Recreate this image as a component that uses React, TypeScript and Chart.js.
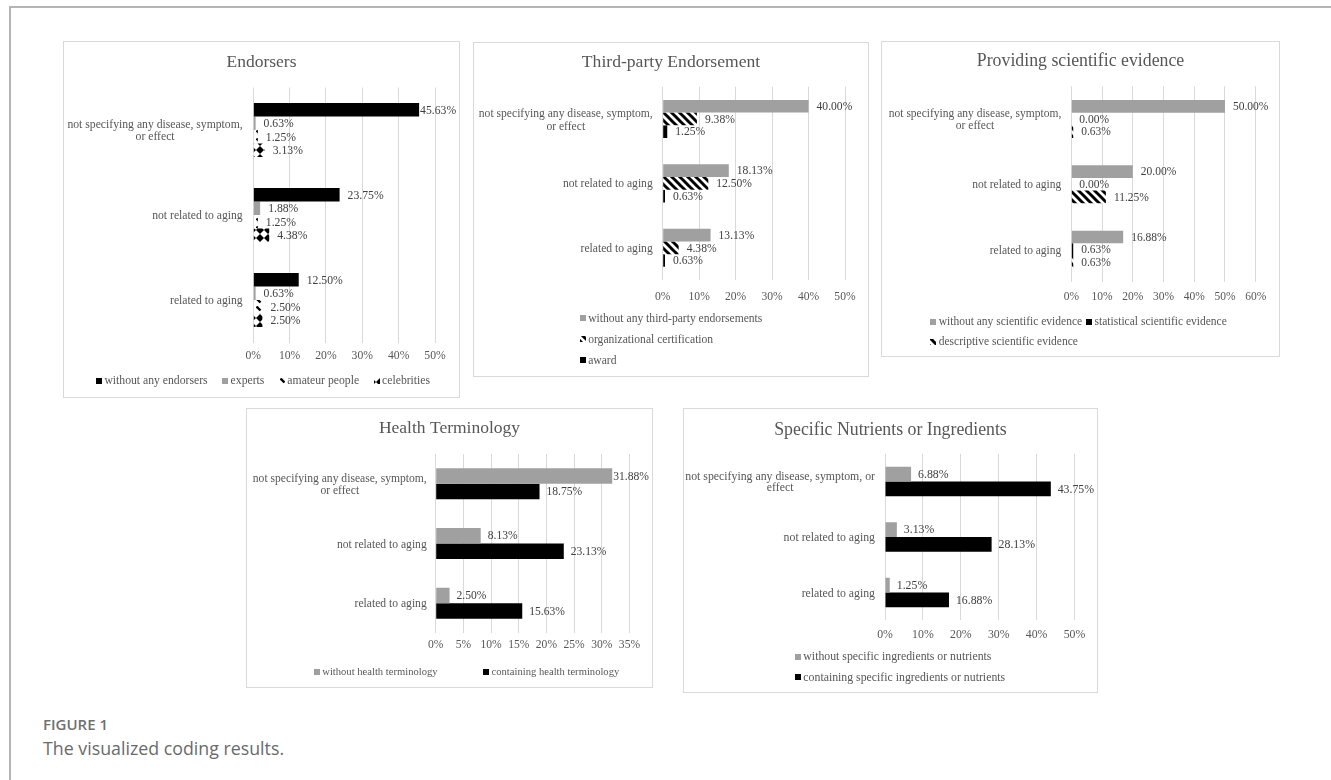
import React, { useEffect, useRef } from "react";
import { Chart, registerables } from "chart.js";

Chart.register(...registerables);

const SERIF = '"Liberation Serif", "Times New Roman", serif';
const AXIS_TEXT = "#575757";
const VALUE_TEXT = "#404040";
const GRID_COLOR = "#d9d9d9";
const GRAY_FILL = "#a0a0a0";
const BLACK_FILL = "#000000";

// ---------------- data ----------------
const categoriesShortWrap = [
  ["not specifying any disease, symptom,", "or effect"],
  ["not related to aging"],
  ["related to aging"],
];
const categoriesLongWrap = [
  ["not specifying any disease, symptom, or", "effect"],
  ["not related to aging"],
  ["related to aging"],
];

const endorsersTicks = [0, 10, 20, 30, 40, 50];
const endorsersNames = ["without any endorsers", "experts", "amateur people", "celebrities"];
const endorsersNone = [45.63, 23.75, 12.5];
const endorsersExperts = [0.63, 1.88, 0.63];
const endorsersAmateur = [1.25, 1.25, 2.5];
const endorsersCelebrities = [3.13, 4.38, 2.5];

const thirdPartyTicks = [0, 10, 20, 30, 40, 50];
const thirdPartyNames = ["without any third-party endorsements", "organizational certification", "award"];
const thirdPartyNone = [40.0, 18.13, 13.13];
const thirdPartyCertification = [9.38, 12.5, 4.38];
const thirdPartyAward = [1.25, 0.63, 0.63];

const evidenceTicks = [0, 10, 20, 30, 40, 50, 60];
const evidenceNames = ["without any scientific evidence", "statistical scientific evidence", "descriptive scientific evidence"];
const evidenceNone = [50.0, 20.0, 16.88];
const evidenceStatistical = [0.0, 0.0, 0.63];
const evidenceDescriptive = [0.63, 11.25, 0.63];

const healthTicks = [0, 5, 10, 15, 20, 25, 30, 35];
const healthNames = ["without health terminology", "containing health terminology"];
const healthWithout = [31.88, 8.13, 2.5];
const healthContaining = [18.75, 23.13, 15.63];

const nutrientTicks = [0, 10, 20, 30, 40, 50];
const nutrientNames = ["without specific ingredients or nutrients", "containing specific ingredients or nutrients"];
const nutrientWithout = [6.88, 3.13, 1.25];
const nutrientContaining = [43.75, 28.13, 16.88];

// ---------------- fills ----------------
function makeFill(kind: string): any {
  if (kind === "gray") return GRAY_FILL;
  if (kind === "black") return BLACK_FILL;
  const s = 8;
  const c = document.createElement("canvas");
  c.width = s;
  c.height = s;
  const g = c.getContext("2d")!;
  g.fillStyle = "#ffffff";
  g.fillRect(0, 0, s, s);
  g.fillStyle = "#000000";
  g.strokeStyle = "#000000";
  if (kind === "stripes") {
    g.lineWidth = 3;
    for (const c0 of [-s, 0, s]) {
      g.beginPath();
      g.moveTo(c0 - 1, -1);
      g.lineTo(c0 + s + 1, s + 1);
      g.stroke();
    }
  } else if (kind === "diamonds") {
    g.beginPath();
    g.moveTo(s / 2, 0);
    g.lineTo(s, s / 2);
    g.lineTo(s / 2, s);
    g.lineTo(0, s / 2);
    g.closePath();
    g.fill();
  } else if (kind === "dashes") {
    g.lineWidth = 2.4;
    g.beginPath();
    g.moveTo(0.5, 0.5);
    g.lineTo(4.5, 4.5);
    g.stroke();
  }
  return g.createPattern(c, "repeat");
}

// ---------------- panel layout ----------------
type Series = { name: string; values: number[]; fill: string };
type PanelSpec = {
  key: string;
  title: string;
  left: number;
  top: number;
  width: number;
  height: number;
  area: { left: number; top: number; right: number; bottom: number };
  categories: string[][];
  series: Series[];
  ticks: number[];
  fontSize: number;
  legendFontSize: number;
  titleSize: number;
  titleY: number;
  labelPad: number;
  lineHeight: number;
  tickPad: number;
  catPct: number;
  valueGap: number;
  legendRows: number[][];
  legendY: number;
  legendRowGap: number;
  legendItemGap: number;
  legendDx: number;
};

const panels: PanelSpec[] = [
  {
    key: "endorsers",
    title: "Endorsers",
    left: 63, top: 41, width: 397, height: 357,
    area: { left: 189.3, top: 45.5, right: 371, bottom: 300.5 },
    categories: categoriesShortWrap,
    series: [
      { name: endorsersNames[0], values: endorsersNone, fill: "black" },
      { name: endorsersNames[1], values: endorsersExperts, fill: "gray" },
      { name: endorsersNames[2], values: endorsersAmateur, fill: "dashes" },
      { name: endorsersNames[3], values: endorsersCelebrities, fill: "diamonds" },
    ],
    ticks: endorsersTicks,
    fontSize: 11.7, legendFontSize: 11.7, titleSize: 17.5, titleY: 20, labelPad: 10.6, lineHeight: 12.7,
    tickPad: 6.6, catPct: 0.635, valueGap: 8,
    legendRows: [[0, 1, 2, 3]], legendY: 338.7, legendRowGap: 0, legendItemGap: 14.5, legendDx: 1.5,
  },
  {
    key: "thirdparty",
    title: "Third-party Endorsement",
    left: 473, top: 42, width: 396, height: 335,
    area: { left: 188.7, top: 43.75, right: 371, bottom: 237 },
    categories: categoriesShortWrap,
    series: [
      { name: thirdPartyNames[0], values: thirdPartyNone, fill: "gray" },
      { name: thirdPartyNames[1], values: thirdPartyCertification, fill: "stripes" },
      { name: thirdPartyNames[2], values: thirdPartyAward, fill: "black" },
    ],
    ticks: thirdPartyTicks,
    fontSize: 11.6, legendFontSize: 11.6, titleSize: 17.6, titleY: 19.7, labelPad: 10, lineHeight: 13,
    tickPad: 9.7, catPct: 0.59, valueGap: 8,
    legendRows: [[0], [1], [2]], legendY: 275.3, legendRowGap: 21, legendItemGap: 10, legendDx: 0,
  },
  {
    key: "evidence",
    title: "Providing scientific evidence",
    left: 881, top: 41, width: 399, height: 316,
    area: { left: 189.3, top: 44.3, right: 373.7, bottom: 240.3 },
    categories: categoriesShortWrap,
    series: [
      { name: evidenceNames[0], values: evidenceNone, fill: "gray" },
      { name: evidenceNames[1], values: evidenceStatistical, fill: "black" },
      { name: evidenceNames[2], values: evidenceDescriptive, fill: "stripes" },
    ],
    ticks: evidenceTicks,
    fontSize: 11.5, legendFontSize: 11.5, titleSize: 17.8, titleY: 19.7, labelPad: 10, lineHeight: 12.4,
    tickPad: 8.1, catPct: 0.58, valueGap: 8,
    legendRows: [[0, 1], [2]], legendY: 279.7, legendRowGap: 20, legendItemGap: 4, legendDx: -2,
  },
  {
    key: "health",
    title: "Health Terminology",
    left: 246, top: 408, width: 407, height: 280,
    area: { left: 188.7, top: 45, right: 382.5, bottom: 224 },
    categories: categoriesShortWrap,
    series: [
      { name: healthNames[0], values: healthWithout, fill: "gray" },
      { name: healthNames[1], values: healthContaining, fill: "black" },
    ],
    ticks: healthTicks,
    fontSize: 11.6, legendFontSize: 10.6, titleSize: 17.5, titleY: 19.3, labelPad: 9, lineHeight: 12.3,
    tickPad: 5, catPct: 0.52, valueGap: 7,
    legendRows: [[0, 1]], legendY: 262.7, legendRowGap: 0, legendItemGap: 45.5, legendDx: 17,
  },
  {
    key: "nutrients",
    title: "Specific Nutrients or Ingredients",
    left: 683, top: 408, width: 415, height: 285,
    area: { left: 201, top: 44.75, right: 390.5, bottom: 211.25 },
    categories: categoriesLongWrap,
    series: [
      { name: nutrientNames[0], values: nutrientWithout, fill: "gray" },
      { name: nutrientNames[1], values: nutrientContaining, fill: "black" },
    ],
    ticks: nutrientTicks,
    fontSize: 11.8, legendFontSize: 11.8, titleSize: 17.8, titleY: 21, labelPad: 10, lineHeight: 11.7,
    tickPad: 7.6, catPct: 0.53, valueGap: 7,
    legendRows: [[0], [1]], legendY: 247.7, legendRowGap: 20.3, legendItemGap: 10, legendDx: 9.5,
  },
];

const X_AXIS_H = 24;

function ChartPanel({ spec }: { spec: PanelSpec }) {
  const ref = useRef<HTMLCanvasElement>(null);
  const W = spec.width - 2;
  const H = spec.height - 2;

  useEffect(() => {
    const canvas = ref.current;
    if (!canvas) return;
    const fills = spec.series.map((s) => makeFill(s.fill));
    const font = (size: number) => `${size}px ${SERIF}`;

    const overlay = {
      id: "overlay_" + spec.key,
      afterDatasetsDraw(chart: any) {
        const ctx = chart.ctx;
        ctx.save();
        ctx.font = font(spec.fontSize);
        ctx.fillStyle = VALUE_TEXT;
        ctx.textAlign = "left";
        ctx.textBaseline = "middle";
        chart.data.datasets.forEach((ds: any, i: number) => {
          const meta = chart.getDatasetMeta(i);
          meta.data.forEach((el: any, j: number) => {
            const v = ds.data[j] as number;
            const txt = v.toFixed(2) + "%";
            const w = ctx.measureText(txt).width;
            let x = el.x + spec.valueGap;
            const limit = chart.width - 3 - w;
            if (x > limit) x = Math.max(limit, el.x + 1);
            ctx.fillText(txt, x, el.y + 0.7);
          });
        });
        ctx.restore();
      },
      afterDraw(chart: any) {
        const ctx = chart.ctx;
        const area = chart.chartArea;
        ctx.save();
        // title
        ctx.font = font(spec.titleSize);
        ctx.fillStyle = AXIS_TEXT;
        ctx.textAlign = "center";
        ctx.textBaseline = "middle";
        ctx.fillText(spec.title, chart.width / 2, spec.titleY);

        // category labels
        ctx.font = font(spec.fontSize);
        const yScale = chart.scales.y;
        spec.categories.forEach((lines, i) => {
          const cy = yScale.getPixelForTick(i) + 1;
          const block = Math.max(...lines.map((l) => ctx.measureText(l).width));
          const cx = area.left - spec.labelPad - block / 2;
          lines.forEach((line, k) => {
            const y = cy + (k - (lines.length - 1) / 2) * spec.lineHeight;
            ctx.fillText(line, cx, y);
          });
        });

        // legend
        ctx.font = font(spec.legendFontSize);
        const box = 6;
        const boxGap = 2.5;
        const itemW = (idx: number) => box + boxGap + ctx.measureText(spec.series[idx].name).width;
        const rowWidths = spec.legendRows.map(
          (row) => row.reduce((a, idx) => a + itemW(idx), 0) + spec.legendItemGap * (row.length - 1)
        );
        const blockW = Math.max(...rowWidths);
        const startX = chart.width / 2 + spec.legendDx - blockW / 2;
        ctx.textAlign = "left";
        spec.legendRows.forEach((row, r) => {
          let x = startX;
          const y = spec.legendY + r * spec.legendRowGap;
          row.forEach((idx) => {
            ctx.fillStyle = fills[idx];
            ctx.fillRect(Math.round(x), Math.round(y - box / 2), box, box);
            ctx.fillStyle = AXIS_TEXT;
            ctx.fillText(spec.series[idx].name, x + box + boxGap, y + 0.5);
            x += itemW(idx) + spec.legendItemGap;
          });
        });
        ctx.restore();
      },
    };

    const t = spec.ticks;
    const chart = new Chart(canvas, {
      type: "bar",
      data: {
        labels: spec.categories as any,
        datasets: spec.series.map((s, i) => ({
          label: s.name,
          data: s.values,
          backgroundColor: fills[i],
          borderWidth: 0,
          barPercentage: 1,
          categoryPercentage: spec.catPct,
        })),
      },
      options: {
        indexAxis: "y",
        responsive: false,
        animation: false,
        devicePixelRatio: 1,
        layout: {
          padding: {
            left: spec.area.left,
            top: spec.area.top,
            right: W - spec.area.right,
            bottom: H - spec.area.bottom - X_AXIS_H,
          },
        },
        plugins: {
          legend: { display: false },
          title: { display: false },
          tooltip: { enabled: false },
        },
        scales: {
          y: { display: false },
          x: {
            type: "linear",
            min: t[0],
            max: t[t.length - 1],
            ticks: {
              stepSize: t[1] - t[0],
              callback: (v: any) => `${v}%`,
              font: { family: SERIF, size: spec.fontSize },
              color: AXIS_TEXT,
              padding: spec.tickPad,
              autoSkip: false,
              maxRotation: 0,
            },
            grid: { color: GRID_COLOR, lineWidth: 1, drawTicks: false },
            border: { display: false },
            afterFit: (s: any) => {
              s.height = X_AXIS_H;
            },
          },
        },
      } as any,
      plugins: [overlay],
    });
    return () => chart.destroy();
  }, []);

  return (
    <div
      style={{
        position: "absolute",
        left: spec.left,
        top: spec.top,
        width: spec.width,
        height: spec.height,
        border: "1px solid #d9d9d9",
        boxSizing: "border-box",
        background: "#ffffff",
      }}
    >
      <canvas ref={ref} width={W} height={H} style={{ display: "block", width: W, height: H }} />
    </div>
  );
}

export default function App() {
  return (
    <div
      style={{
        position: "absolute",
        left: 0,
        top: 0,
        width: 1331,
        height: 780,
        background: "#ffffff",
        overflow: "hidden",
      }}
    >
      <div
        style={{
          position: "absolute",
          left: 9,
          top: 6,
          width: 1340,
          height: 800,
          borderTop: "2px solid #b4b4b4",
          borderLeft: "2px solid #b4b4b4",
          boxSizing: "border-box",
        }}
      />
      {panels.map((p) => (
        <ChartPanel key={p.key} spec={p} />
      ))}
      <div
        style={{
          position: "absolute",
          left: 43,
          top: 714,
          fontFamily: '"Open Sans", "Noto Sans", sans-serif',
          fontWeight: 600,
          fontSize: 15,
          color: "#707070",
          lineHeight: "20px",
        }}
      >
        FIGURE 1
      </div>
      <div
        style={{
          position: "absolute",
          left: 43,
          top: 736,
          fontFamily: '"Open Sans", "Noto Sans", sans-serif',
          fontSize: 17.8,
          color: "#6a6a6a",
          lineHeight: "24px",
        }}
      >
        The visualized coding results.
      </div>
    </div>
  );
}
